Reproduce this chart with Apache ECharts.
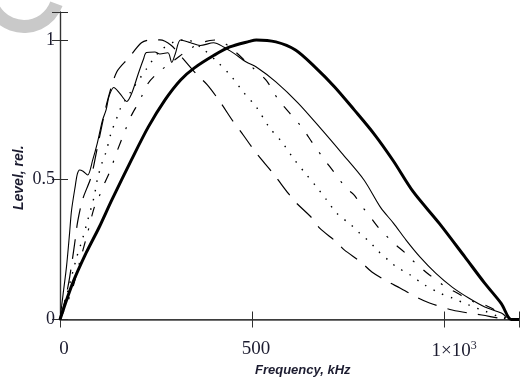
<!DOCTYPE html>
<html><head><meta charset="utf-8">
<script src="https://cdn.jsdelivr.net/npm/echarts@6/dist/echarts.min.js"></script>
<style>html,body{margin:0;padding:0;background:#fff}#c{width:522px;height:381px}</style>
</head><body><div id="c"></div>
<script>
// Tick labels
const xTicks = [0, 500, 1000];
const xTickLabels = ['0', '500', '{p|}{b|1×10}{s|3}'];
const yTicks = [0, 0.5, 1];
const yTickLabels = ['0', '0.5', '1'];

// Thick solid curve
const thickF = [0, 33, 68, 102, 135, 186, 230, 273, 314, 350, 401, 442, 493, 511, 562, 613, 664, 715, 766, 817, 868, 919, 988, 1054, 1105, 1149, 1175, 1195];
const thickL = [0, 0.13, 0.238, 0.33, 0.428, 0.571, 0.689, 0.785, 0.857, 0.9, 0.945, 0.975, 0.995, 1.0, 0.993, 0.964, 0.903, 0.832, 0.75, 0.665, 0.567, 0.458, 0.343, 0.224, 0.131, 0.057, 0, 0];

// Thin solid curve
const thinF = [0, 8, 17, 25, 30, 40, 45, 51, 60, 72, 85, 97, 110, 120, 128, 140, 155, 174, 187, 204, 217, 225, 247, 260, 281, 291, 300, 314, 340, 365, 400, 426, 452, 485, 511, 562, 620, 682, 733, 791, 835, 868, 901, 937, 978, 1021, 1064, 1106, 1149, 1175, 1195];
const thinL = [0, 0.09, 0.19, 0.31, 0.39, 0.48, 0.52, 0.535, 0.53, 0.517, 0.57, 0.63, 0.71, 0.75, 0.8, 0.83, 0.81, 0.78, 0.81, 0.88, 0.93, 0.955, 0.957, 0.95, 0.954, 0.92, 0.95, 1.0, 0.99, 0.98, 0.99, 0.975, 0.953, 0.921, 0.903, 0.85, 0.774, 0.678, 0.596, 0.5, 0.4, 0.345, 0.284, 0.224, 0.166, 0.116, 0.077, 0.045, 0.023, 0, 0];

// Dashed curve
const dashF = [0, 15, 25, 38, 46, 59, 81, 95, 110, 125, 148, 179, 212, 235, 260, 290, 319, 357, 383, 416, 450, 477, 511, 554, 595, 613, 656, 676, 720, 740, 783, 812, 855, 885, 932, 962, 1021, 1098, 1175, 1195];
const dashL = [0, 0.08, 0.15, 0.27, 0.35, 0.43, 0.51, 0.6, 0.7, 0.79, 0.886, 0.936, 0.99, 1.0, 1.0, 0.98, 0.935, 0.875, 0.84, 0.78, 0.71, 0.66, 0.595, 0.524, 0.45, 0.42, 0.363, 0.327, 0.277, 0.249, 0.206, 0.17, 0.134, 0.113, 0.077, 0.059, 0.034, 0.016, 0, 0];

// Dotted curve
const dotF = [0, 20, 43, 59, 72, 89, 97, 110, 120, 133, 149, 158, 184, 227, 260, 300, 330, 370, 413, 447, 477, 511, 544, 580, 605, 638, 664, 694, 720, 758, 779, 809, 825, 860, 876, 911, 950, 988, 1021, 1064, 1106, 1175, 1195];
const dotL = [0, 0.1, 0.22, 0.29, 0.355, 0.44, 0.5, 0.563, 0.6, 0.667, 0.725, 0.757, 0.814, 0.9, 0.96, 0.995, 1.0, 0.97, 0.917, 0.868, 0.814, 0.76, 0.689, 0.631, 0.581, 0.524, 0.481, 0.428, 0.381, 0.338, 0.31, 0.274, 0.249, 0.206, 0.188, 0.16, 0.123, 0.095, 0.077, 0.052, 0.03, 0, 0];

// Dash-dot curve
const ddF = [0, 30, 50, 70, 89, 102, 110, 130, 148, 168, 184, 207, 230, 258, 300, 340, 380, 410, 450, 490, 536, 569, 600, 631, 659, 689, 715, 745, 766, 783, 804, 830, 842, 868, 899, 911, 937, 962, 975, 1004, 1034, 1052, 1077, 1106, 1123, 1175, 1195];
const ddL = [0, 0.1, 0.2, 0.3, 0.4, 0.44, 0.47, 0.53, 0.6, 0.67, 0.725, 0.782, 0.846, 0.886, 0.93, 0.97, 0.995, 1.0, 0.965, 0.915, 0.857, 0.785, 0.735, 0.685, 0.628, 0.571, 0.524, 0.47, 0.445, 0.41, 0.374, 0.327, 0.31, 0.274, 0.238, 0.22, 0.188, 0.159, 0.148, 0.116, 0.095, 0.08, 0.063, 0.052, 0.041, 0, 0];

const zip = (f, l) => f.map((v, i) => [v, l[i]]);

const chart = echarts.init(document.getElementById('c'), null, {renderer: 'canvas'});
const labelFont = '"Liberation Serif", "Times New Roman", serif';
const titleFont = '"Liberation Sans", Arial, sans-serif';
const axColor = '#2a2a2a';
const lblColor = '#1c1c30';

function mkLine(data, width, type) {
  return {
    type: 'line', data: data, showSymbol: false, symbol: 'none', smooth: 0.3,
    lineStyle: {color: '#000', width: width, type: type}, silent: true, animation: false
  };
}

chart.setOption({
  animation: false,
  backgroundColor: '#fff',
  grid: {left: 60, top: 12, width: 468, height: 307.5, containLabel: false},
  xAxis: [{
    type: 'value', min: 0, max: 1195, interval: 500,
    axisLine: {lineStyle: {color: axColor, width: 1.2}},
    axisTick: {inside: true, length: 8, lineStyle: {color: axColor}},
    splitLine: {show: false},
    axisLabel: {
      margin: 20, color: lblColor, fontFamily: labelFont, fontSize: 19, padding: [0, 0, 0, 8],
      formatter: v => { const i = xTicks.indexOf(v); return i >= 0 ? xTickLabels[i] : ''; },
      rich: {
        p: {width: 12},
        b: {fontFamily: labelFont, fontSize: 19, color: lblColor},
        s: {fontFamily: labelFont, fontSize: 12, color: lblColor, verticalAlign: 'top', padding: [0, 0, 11, 0]}
      }
    }
  }, {
    type: 'value', position: 'top', min: 0, max: 1195, interval: 500,
    axisLine: {lineStyle: {color: '#444', width: 1.5}},
    axisTick: {inside: true, length: 8, lineStyle: {color: '#333'}},
    splitLine: {show: false}, axisLabel: {show: false}
  }],
  yAxis: [{
    type: 'value', min: 0, max: 1.1, interval: 0.5,
    axisLine: {show: true, lineStyle: {color: axColor, width: 1.2}},
    axisTick: {show: true, inside: true, length: 8, lineStyle: {color: axColor}},
    splitLine: {show: false},
    axisLabel: {
      margin: 5, color: lblColor, fontFamily: labelFont, fontSize: 18, padding: [6, 0, 0, 0],
      formatter: v => { const i = yTicks.findIndex(t => Math.abs(t - v) < 1e-9); return i >= 0 ? yTickLabels[i] : ''; }
    }
  }, {
    type: 'value', position: 'right', min: 0, max: 1.1, interval: 0.5,
    axisLine: {show: true, lineStyle: {color: '#333', width: 1.2}},
    axisTick: {show: true, inside: true, length: 8, lineStyle: {color: '#333'}},
    splitLine: {show: false}, axisLabel: {show: false}
  }],
  series: [
    mkLine(zip(dashF, dashL), 1.2, [20, 11]),
    mkLine(zip(dotF, dotL), 1.4, [1.5, 8]),
    mkLine(zip(ddF, ddL), 1.2, [10, 12, 2, 12]),
    mkLine(zip(thinF, thinL), 1.1, 'solid'),
    mkLine(zip(thickF, thickL), 3, 'solid')
  ],
  graphic: [
    {type: 'sector', shape: {cx: 24, cy: -8, r0: 28, r: 41, startAngle: 0.35, endAngle: Math.PI}, style: {fill: '#c9c9c9'}, z: -1},
    {type: 'text', left: 255, top: 364, style: {text: 'Frequency, kHz', font: 'italic bold 13px ' + titleFont, fill: lblColor}},
    {type: 'text', x: 12, y: 210, rotation: Math.PI / 2, style: {text: 'Level, rel.', font: 'italic bold 14px ' + titleFont, fill: lblColor}}
  ]
});
</script></body></html>
